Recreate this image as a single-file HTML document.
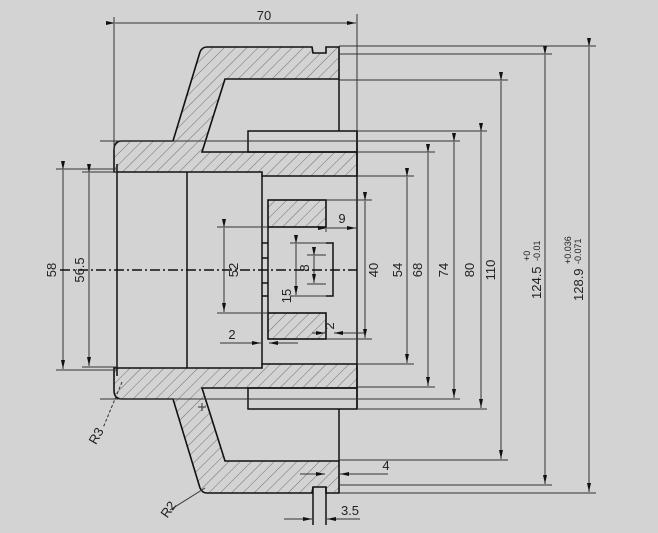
<!DOCTYPE html>
<html><head><style>html,body{margin:0;padding:0;background:#d3d3d3}svg{display:block}text{font-family:"Liberation Sans",sans-serif;fill:#222}</style></head>
<body>
<svg width="658" height="533" viewBox="0 0 658 533" xmlns="http://www.w3.org/2000/svg">
<defs>
<pattern id="h" patternUnits="userSpaceOnUse" width="8" height="8" patternTransform="rotate(45)">
<rect width="8" height="8" fill="#d3d3d3"/><line x1="0" y1="0" x2="0" y2="8" stroke="#555" stroke-width="0.8"/></pattern>
<marker id="a" markerWidth="10" markerHeight="6" refX="9" refY="3" orient="auto" markerUnits="userSpaceOnUse"><path d="M0,1 L9,3 L0,5z" fill="#111"/></marker>
</defs>
<rect width="658" height="533" fill="#d3d3d3"/>
<g stroke="#111" stroke-width="1.6" fill="url(#h)">
<path d="M122,141 L173,141 L200,52 Q202,47 207,47 L312,47 L313,53 L326,53 L326,47 L339,47 L339,79 L225,79 L202,152 L357,152 L357,176 L262,176 L262,172 L114,172 L114,150 Q114,141 122,141Z"/>
<path d="M122,399 L173,399 L200,488 Q202,493 207,493 L312,493 L313,487 L326,487 L326,493 L339,493 L339,461 L225,461 L202,388 L357,388 L357,364 L262,364 L262,368 L114,368 L114,390 Q114,399 122,399Z"/>
<rect x="268" y="200" width="58" height="27"/>
<rect x="268" y="313" width="58" height="26"/>
</g>
<g stroke="#111" stroke-width="1.5" fill="none">
<rect x="248" y="131" width="109" height="21"/>
<rect x="248" y="388" width="109" height="21"/>
<line x1="339" y1="79" x2="339" y2="131"/><line x1="339" y1="409" x2="339" y2="461"/>
<line x1="357" y1="131" x2="357" y2="409"/>
<line x1="187" y1="172" x2="187" y2="368"/>
<line x1="262" y1="176" x2="262" y2="364"/>
<line x1="268" y1="227" x2="268" y2="313"/>
<line x1="117" y1="164" x2="117" y2="376"/>
<line x1="313" y1="487" x2="313" y2="525"/><line x1="326" y1="487" x2="326" y2="525"/>
<path d="M262,243 h6 M262,258 h6 M262,283 h6 M262,296 h6 M326,243 h7 v53 h-7"/>
</g>
<g stroke="#333" stroke-width="1" fill="none">
<line x1="114" y1="17" x2="114" y2="150"/><line x1="357" y1="14" x2="357" y2="131"/>
<line x1="115" y1="23" x2="356" y2="23" marker-end="url(#a)" marker-start="url(#a)"/>
<line x1="100" y1="141" x2="460" y2="141"/><line x1="100" y1="399" x2="460" y2="399"/>
<line x1="339" y1="46" x2="596" y2="46"/><line x1="339" y1="54" x2="552" y2="54"/><line x1="339" y1="80" x2="508" y2="80"/>
<line x1="357" y1="131" x2="487" y2="131"/><line x1="357" y1="152" x2="435" y2="152"/><line x1="357" y1="176" x2="414" y2="176"/><line x1="326" y1="200" x2="372" y2="200"/>
<line x1="339" y1="493" x2="596" y2="493"/><line x1="339" y1="485" x2="552" y2="485"/><line x1="339" y1="460" x2="508" y2="460"/>
<line x1="357" y1="409" x2="487" y2="409"/><line x1="357" y1="387" x2="435" y2="387"/><line x1="357" y1="364" x2="414" y2="364"/><line x1="326" y1="339" x2="372" y2="339"/>
<line x1="589" y1="47" x2="589" y2="492" marker-end="url(#a)" marker-start="url(#a)"/>
<line x1="545" y1="55" x2="545" y2="484" marker-end="url(#a)" marker-start="url(#a)"/>
<line x1="501" y1="81" x2="501" y2="459" marker-end="url(#a)" marker-start="url(#a)"/>
<line x1="481" y1="132" x2="481" y2="408" marker-end="url(#a)" marker-start="url(#a)"/>
<line x1="454" y1="142" x2="454" y2="398" marker-end="url(#a)" marker-start="url(#a)"/>
<line x1="428" y1="153" x2="428" y2="386" marker-end="url(#a)" marker-start="url(#a)"/>
<line x1="407" y1="177" x2="407" y2="363" marker-end="url(#a)" marker-start="url(#a)"/>
<line x1="365" y1="201" x2="365" y2="338" marker-end="url(#a)" marker-start="url(#a)"/>
<line x1="56" y1="169" x2="117" y2="169"/><line x1="56" y1="370" x2="117" y2="370"/>
<line x1="82" y1="172" x2="117" y2="172"/><line x1="82" y1="367" x2="117" y2="367"/>
<line x1="63" y1="170" x2="63" y2="369" marker-end="url(#a)" marker-start="url(#a)"/>
<line x1="89" y1="173" x2="89" y2="366" marker-end="url(#a)" marker-start="url(#a)"/>
<line x1="217" y1="227" x2="268" y2="227"/><line x1="217" y1="313" x2="268" y2="313"/>
<line x1="224" y1="228" x2="224" y2="312" marker-end="url(#a)" marker-start="url(#a)"/>
<line x1="290" y1="243" x2="326" y2="243"/><line x1="290" y1="296" x2="326" y2="296"/>
<line x1="307" y1="255" x2="326" y2="255"/><line x1="307" y1="284" x2="326" y2="284"/>
<line x1="296" y1="244" x2="296" y2="295" marker-end="url(#a)" marker-start="url(#a)"/>
<line x1="314" y1="256" x2="314" y2="283" marker-end="url(#a)" marker-start="url(#a)"/>
<line x1="326" y1="227" x2="326" y2="232"/>
<line x1="327" y1="228" x2="356" y2="228" marker-end="url(#a)" marker-start="url(#a)"/>
<line x1="220" y1="343" x2="261" y2="343" marker-end="url(#a)"/><line x1="298" y1="343" x2="269" y2="343" marker-end="url(#a)"/>
<line x1="312" y1="333" x2="325" y2="333" marker-end="url(#a)"/><line x1="365" y1="333" x2="334" y2="333" marker-end="url(#a)"/>
<line x1="300" y1="474" x2="325" y2="474" marker-end="url(#a)"/><line x1="388" y1="474" x2="340" y2="474" marker-end="url(#a)"/>
<line x1="284" y1="519" x2="312" y2="519" marker-end="url(#a)"/><line x1="360" y1="519" x2="327" y2="519" marker-end="url(#a)"/>
<line x1="122" y1="382" x2="103" y2="428" stroke-dasharray="3,2"/>
<line x1="205" y1="488" x2="170" y2="510"/>
<line x1="60" y1="270" x2="357" y2="270" stroke="#111" stroke-width="1.4" stroke-dasharray="10,3,2,3"/>
<path d="M198,407 h8 M202,403 v8"/>
</g>
<g font-size="13">
<text x="264" y="20" text-anchor="middle">70</text>
<text x="342" y="223" text-anchor="middle">9</text>
<text x="232" y="339" text-anchor="middle">2</text>
<text x="386" y="470" text-anchor="middle">4</text>
<text x="350" y="515" text-anchor="middle">3.5</text>
<text transform="translate(56,270) rotate(-90)" text-anchor="middle">58</text>
<text transform="translate(84,270) rotate(-90)" text-anchor="middle">56.5</text>
<text transform="translate(238,270) rotate(-90)" text-anchor="middle">52</text>
<text transform="translate(291,296) rotate(-90)" text-anchor="middle">15</text>
<text transform="translate(309,268) rotate(-90)" text-anchor="middle">8</text>
<text transform="translate(334,326) rotate(-90)" text-anchor="middle">2</text>
<text transform="translate(378,270) rotate(-90)" text-anchor="middle">40</text>
<text transform="translate(402,270) rotate(-90)" text-anchor="middle">54</text>
<text transform="translate(422,270) rotate(-90)" text-anchor="middle">68</text>
<text transform="translate(448,270) rotate(-90)" text-anchor="middle">74</text>
<text transform="translate(474,270) rotate(-90)" text-anchor="middle">80</text>
<text transform="translate(495,270) rotate(-90)" text-anchor="middle">110</text>
<text transform="translate(541,299) rotate(-90)">124.5<tspan font-size="9" x="38" y="-11">+0</tspan><tspan font-size="9" x="38" y="-1">-0.01</tspan></text>
<text transform="translate(583,301) rotate(-90)">128.9<tspan font-size="9" x="37" y="-12">+0.036</tspan><tspan font-size="9" x="37" y="-2">-0.071</tspan></text>
<text transform="translate(100,438) rotate(-60)" text-anchor="middle">R3</text>
<text transform="translate(172,512) rotate(-55)" text-anchor="middle">R2</text>
</g>
</svg>
</body></html>
